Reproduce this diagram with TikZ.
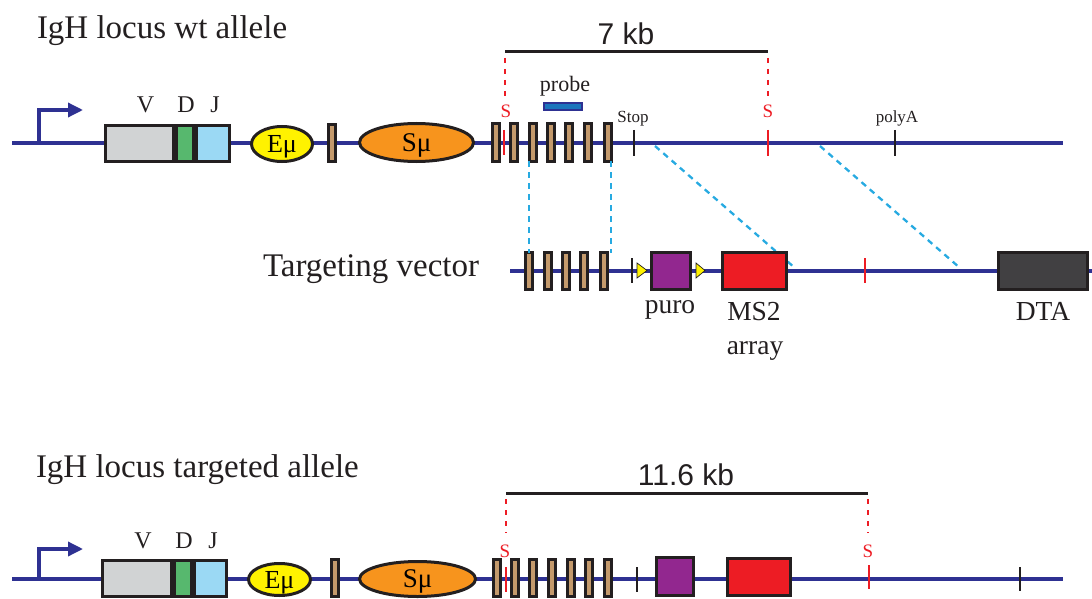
\documentclass[tikz,border=0pt]{standalone}
\usepackage{fontspec}
\setmainfont{Liberation Serif}
\newfontfamily\kbfont{Liberation Sans}
\usetikzlibrary{shapes.geometric,arrows.meta}
\definecolor{dnablue}{RGB}{46,49,146}
\definecolor{ink}{RGB}{35,31,32}
\definecolor{vgray}{RGB}{209,211,212}
\definecolor{dgreen}{RGB}{87,184,110}
\definecolor{jblue}{RGB}{155,217,244}
\definecolor{eyellow}{RGB}{255,242,0}
\definecolor{sorange}{RGB}{247,148,29}
\definecolor{tan}{RGB}{196,154,108}
\definecolor{puroc}{RGB}{146,39,143}
\definecolor{msred}{RGB}{237,28,36}
\definecolor{dtac}{RGB}{65,64,66}
\definecolor{cyanl}{RGB}{39,170,225}
\definecolor{probec}{RGB}{28,117,188}
\tikzset{
  dna/.style={line width=3.4pt, draw=dnablue},
  outl/.style={draw=ink, line width=3pt, inner sep=0pt, outer sep=0pt},
  exon/.style={outl, rectangle, fill=tan, minimum width=7pt, minimum height=37pt},
  blk/.style={outl, rectangle, line width=3.4pt},
  ell/.style={outl, ellipse, text depth=0pt},
  bticks/.style={line width=2.8pt, draw=ink},
  rticks/.style={line width=2.8pt, draw=msred},
  sdots/.style={line width=2.8pt, draw=msred, dash pattern=on 5pt off 6pt},
  homol/.style={line width=2.3pt, draw=cyanl, dash pattern=on 6pt off 5pt},
  lbl/.style={inner sep=0pt, outer sep=0pt, text=ink, anchor=base},
  lblw/.style={lbl, anchor=base west},
  slbl/.style={inner sep=0pt, text=msred, anchor=base, font=\fontsize{19}{19}\selectfont},
  lox/.style={fill=eyellow, draw=ink, line width=0.7pt},
  prom/.style={dna, -{Triangle[length=15pt,width=14pt]}},
  brk/.style={line width=3pt, draw=ink}
}
\begin{document}
\begin{tikzpicture}[x=1pt,y=-1pt]
\useasboundingbox (0,0) rectangle (1092,599);

% ================= wt allele =================
\node[lblw, font=\fontsize{33}{36}\selectfont] (t1) at (37,39) {IgH locus wt allele};
\coordinate (tL) at (12,143);
\coordinate (tR) at (1063,143);
\draw[dna] (tL) -- (tR);
\coordinate (tP) at (39,143);
\coordinate (tPa) at (83,110);
\draw[prom] (tP) |- (tPa);

% 7 kb bracket
\coordinate (b1l) at (505,52);
\coordinate (b1r) at (768,52);
\draw[brk] (b1l) -- (b1r);
\node[lbl, font=\kbfont\fontsize{30}{30}\selectfont] (kb1) at (626,45) {7 kb};
\coordinate (d1a) at (505,58); \coordinate (d1b) at (505,96);
\coordinate (d2a) at (768,58); \coordinate (d2b) at (768,96);
\draw[sdots] (d1a) -- (d1b);
\draw[sdots] (d2a) -- (d2b);

% homology dashed lines (behind boxes)
\coordinate (h1a) at (655,146); \coordinate (h1b) at (795,268);
\coordinate (h2a) at (820,146); \coordinate (h2b) at (960,268);

% VDJ
\node[outl, fill=vgray, minimum width=68pt, minimum height=36pt] (tV) at (139.5,143.5) {};
\node[outl, fill=dgreen, minimum width=17pt, minimum height=36pt] (tD) at (185,143.5) {};
\node[outl, fill=jblue, minimum width=33pt, minimum height=36pt] (tJ) at (213,143.5) {};
\node[lbl, font=\fontsize{24}{24}\selectfont] (tVl) at (145.5,113) {V};
\node[lbl, font=\fontsize{24}{24}\selectfont] (tDl) at (186,113) {D};
\node[lbl, font=\fontsize{24}{24}\selectfont] (tJl) at (215,113) {J};
\node[ell, fill=eyellow, minimum width=61pt, minimum height=35pt, font=\fontsize{26}{26}\selectfont] (tE) at (282,144) {Eμ};
\node[exon] (tx0) at (332,143) {};
\node[ell, fill=sorange, minimum width=114pt, minimum height=38pt, font=\fontsize{27}{27}\selectfont] (tS) at (416.5,142.5) {Sμ};
\foreach \x [count=\i] in {496,514,532.5,551,569,587.5,607.5}
  \node[exon] (te\i) at (\x,142.5) {};
% ticks
\coordinate (ts1a) at (504,130); \coordinate (ts1b) at (504,155);
\draw[rticks] (ts1a) -- (ts1b);
\node[slbl] (ts1l) at (506,118) {S};
\coordinate (tstopa) at (634,130); \coordinate (tstopb) at (634,156);
\draw[bticks] (tstopa) -- (tstopb);
\node[lbl, font=\fontsize{17}{17}\selectfont] (tstopl) at (633,123) {Stop};
\coordinate (ts2a) at (768,130); \coordinate (ts2b) at (768,156);
\draw[rticks] (ts2a) -- (ts2b);
\node[slbl] (ts2l) at (768,118) {S};
\coordinate (tpaa) at (895,130); \coordinate (tpab) at (895,156);
\draw[bticks] (tpaa) -- (tpab);
\node[lbl, font=\fontsize{17}{17}\selectfont] (tpal) at (897,123) {polyA};
% probe
\node[outl, line width=2.4pt, draw=dnablue, fill=probec, minimum width=38pt, minimum height=7pt] (probe) at (563,106.5) {};
\node[lbl, font=\fontsize{22}{22}\selectfont] (probel) at (565,92) {probe};

% ================= targeting vector =================
\node[lblw, font=\fontsize{33}{36}\selectfont] (tv) at (263,276) {Targeting vector};
\coordinate (vL) at (510,271);
\coordinate (vR) at (1092,271);
\draw[dna] (vL) -- (vR);
\foreach \x [count=\i] in {529,547.5,566,584,603.5}
  \node[exon] (ve\i) at (\x,271) {};
\draw[homol] (te3.south west) -- (te3.south west |- ve1.north);
\draw[homol] (te7.south east) -- (te7.south east |- ve1.north);
\draw[homol] (h1a) -- (h1b);
\draw[homol] (h2a) -- (h2b);
\coordinate (vt1a) at (632,258); \coordinate (vt1b) at (632,283);
\draw[bticks] (vt1a) -- (vt1b);
\draw[lox] (637,263) -- (647,270.5) -- (637,278) -- cycle;
\node[blk, fill=puroc, minimum width=38.5pt, minimum height=36.5pt] (vpuro) at (671,271) {};
\draw[lox] (696,263) -- (705,270.5) -- (696,278) -- cycle;
\node[blk, fill=msred, minimum width=63.5pt, minimum height=36.5pt] (vms2) at (754.5,271) {};
\coordinate (vt2a) at (865,258); \coordinate (vt2b) at (865,283);
\draw[rticks] (vt2a) -- (vt2b);
\node[blk, fill=dtac, minimum width=88.5pt, minimum height=36.5pt] (vdta) at (1043,271) {};
\node[lbl, font=\fontsize{27.5}{27.5}\selectfont] (puroL) at (670,313) {puro};
\node[lbl, font=\fontsize{27.5}{27.5}\selectfont] (ms2L) at (754,320) {MS2};
\node[lbl, font=\fontsize{27.5}{27.5}\selectfont] (arrL) at (755,354) {array};
\node[lbl, font=\fontsize{27.5}{27.5}\selectfont] (dtaL) at (1043,320) {DTA};

% ================= targeted allele =================
\node[lblw, font=\fontsize{33}{36}\selectfont] (t2) at (36,477) {IgH locus targeted allele};
\coordinate (bL) at (12,579);
\coordinate (bR) at (1063,579);
\draw[dna] (bL) -- (bR);
\coordinate (bP) at (39,579);
\coordinate (bPa) at (83,549);
\draw[prom] (bP) |- (bPa);

\coordinate (b2l) at (506,493);
\coordinate (b2r) at (868,493);
\draw[brk] (b2l) -- (b2r);
\node[lbl, font=\kbfont\fontsize{30}{30}\selectfont] (kb2) at (686,485) {11.6 kb};
\coordinate (d3a) at (506,499); \coordinate (d3b) at (506,533);
\coordinate (d4a) at (868,499); \coordinate (d4b) at (868,533);
\draw[sdots] (d3a) -- (d3b);
\draw[sdots] (d4a) -- (d4b);

\node[outl, fill=vgray, minimum width=69pt, minimum height=36pt] (bV) at (137,578.5) {};
\node[outl, fill=dgreen, minimum width=17pt, minimum height=36pt] (bD) at (183,578.5) {};
\node[outl, fill=jblue, minimum width=32pt, minimum height=36pt] (bJ) at (210.5,578.5) {};
\node[lbl, font=\fontsize{24}{24}\selectfont] (bVl) at (143,548) {V};
\node[lbl, font=\fontsize{24}{24}\selectfont] (bDl) at (184,548) {D};
\node[lbl, font=\fontsize{24}{24}\selectfont] (bJl) at (213,548) {J};
\node[ell, fill=eyellow, minimum width=62pt, minimum height=32pt, font=\fontsize{26}{26}\selectfont] (bE) at (279.5,579.5) {Eμ};
\node[exon] (bx0) at (335,578) {};
\node[ell, fill=sorange, minimum width=116pt, minimum height=35pt, font=\fontsize{27}{27}\selectfont] (bS) at (417.5,579) {Sμ};
\foreach \x [count=\i] in {497,515,533,552,571,589,608}
  \node[exon] (be\i) at (\x,578) {};
\coordinate (bs1a) at (506,567); \coordinate (bs1b) at (506,592);
\draw[rticks] (bs1a) -- (bs1b);
\node[slbl] (bs1l) at (505,557) {S};
\coordinate (bt1a) at (637,567); \coordinate (bt1b) at (637,592);
\draw[bticks] (bt1a) -- (bt1b);
\node[blk, fill=puroc, minimum width=36.5pt, minimum height=37.5pt] (bpuro) at (675,576.5) {};
\node[blk, fill=msred, minimum width=62.5pt, minimum height=36.5pt] (bms2) at (759,577) {};
\coordinate (bs2a) at (869,565); \coordinate (bs2b) at (869,589);
\draw[rticks] (bs2a) -- (bs2b);
\node[slbl] (bs2l) at (868,557) {S};
\coordinate (bt2a) at (1020,567); \coordinate (bt2b) at (1020,591);
\draw[bticks] (bt2a) -- (bt2b);
\end{tikzpicture}
\end{document}
